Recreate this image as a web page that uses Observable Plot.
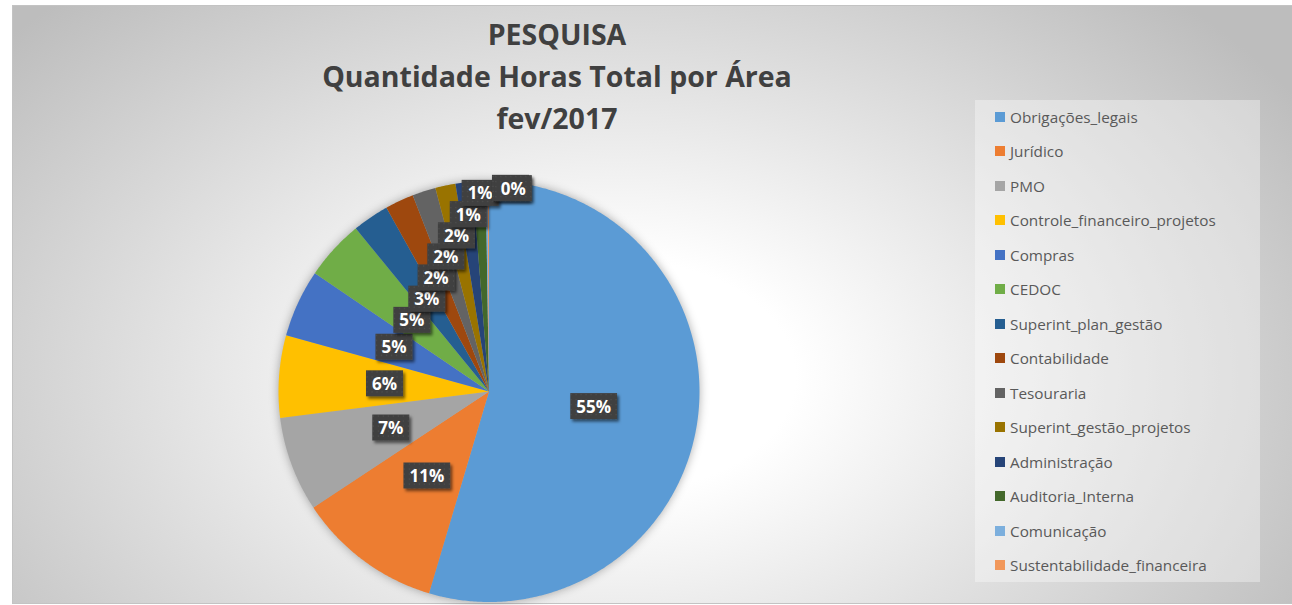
<!DOCTYPE html>
<html><head><meta charset="utf-8">
<script src="https://cdn.jsdelivr.net/npm/d3@7"></script>
<script src="https://cdn.jsdelivr.net/npm/@observablehq/plot@0.6"></script>
<style>
html,body{margin:0;padding:0;background:#fff;width:1292px;height:605px;overflow:hidden;}
#frame{position:absolute;left:12px;top:5px;width:1290px;height:597px;border:1px solid #c3c3c3;
  background: radial-gradient(ellipse 62% 88% at 47% 62%, #ffffff 0%, #ffffff 22%, #bdbdbd 100%);}
#chart{position:absolute;left:0;top:0;}
#chart svg g[aria-label="area"]{filter:drop-shadow(0 0 5px rgba(0,0,0,0.32));}
#title{position:absolute;left:244px;width:600px;top:7px;text-align:center;font-family:"Open Sans",sans-serif;
  font-weight:bold;font-size:28.5px;line-height:42px;color:#404040;font-variant-ligatures:none;}
#legend{position:absolute;left:962px;top:94px;width:285px;height:482px;background:rgba(255,255,255,0.35);}
.item{position:absolute;left:20px;height:20px;display:flex;align-items:center;font-family:"Open Sans",sans-serif;font-size:15.3px;color:#595959;white-space:nowrap;}
.sw{width:10px;height:10px;margin-right:5px;flex:none;}
</style></head><body>
<div id="frame">
  <div id="title">PESQUISA<br>Quantidade Horas Total por Área<br>fev/2017</div>
  <div id="chart"></div>
  <div id="legend"></div>
</div>
<script>
const categories = ["Obrigações_legais","Jurídico","PMO","Controle_financeiro_projetos","Compras","CEDOC",
  "Superint_plan_gestão","Contabilidade","Tesouraria","Superint_gestão_projetos","Administração",
  "Auditoria_Interna","Comunicação","Sustentabilidade_financeira"];
const shares = [54.6, 11.1, 7.3, 6.3, 5.2, 4.6, 2.8, 2.2, 1.8, 1.55, 1.3, 1.0, 0.15, 0.1];
const colors = ["#5B9BD5","#ED7D31","#A5A5A5","#FFC000","#4472C4","#70AD47","#255E91","#9E480E",
  "#636363","#997300","#264478","#43682B","#7CAFDD","#F1975A"];

const W = 1279, H = 597, CX = 476, CY = 385.5, R = 210.5;
const total = d3.sum(shares);
let acc = 0;
const slices = categories.map((c, i) => {
  const a0 = acc / total * 2 * Math.PI; acc += shares[i];
  const a1 = acc / total * 2 * Math.PI;
  return {cat: c, a0, a1, pct: shares[i] / total * 100};
});
const wedges = slices.flatMap(s => {
  const n = Math.max(2, Math.ceil((s.a1 - s.a0) / (Math.PI / 360)));
  return d3.range(n + 1).map(k => {
    const a = s.a0 + (s.a1 - s.a0) * k / n;
    return {cat: s.cat, bx: 0, by: 0, ex: Math.sin(a), ey: Math.cos(a)};
  });
});

// label layout: along mid-angle; a label may not sit below an earlier one it overlaps horizontally
const lw = 30 / R, lh = 21 / R;
const labels = [];
slices.forEach(s => {
  let th = (s.a0 + s.a1) / 2, r = 0.5;
  const hit = (x, y) => labels.some(p => Math.abs(p.x - x) < lw && y < p.y + lh);
  let x = r * Math.sin(th), y = r * Math.cos(th);
  while (hit(x, y) && r < 0.97) { r += 0.002; x = r * Math.sin(th); y = r * Math.cos(th); }
  let k = 0;
  while (hit(x, y) && k < 60) { th += 0.002; x = r * Math.sin(th); y = r * Math.cos(th); k++; }
  labels.push({x, y, text: Math.round(s.pct) + "%"});
});

const plot = Plot.plot({
  width: W, height: H,
  marginLeft: CX - R, marginRight: W - CX - R, marginTop: CY - R, marginBottom: H - CY - R,
  x: {domain: [-1, 1], axis: null},
  y: {domain: [-1, 1], axis: null},
  color: {domain: categories, range: colors},
  style: {background: "none", overflow: "visible"},
  marks: [
    Plot.area(wedges, {x1: "bx", y1: "by", x2: "ex", y2: "ey", z: "cat", fill: "cat"}),
    Plot.text(labels, {x: "x", y: "y", text: "text", fill: "white", fontSize: 17, fontWeight: "bold", fontFamily: "Open Sans"})
  ]
});
document.getElementById("chart").appendChild(plot);

// label boxes
const NS = "http://www.w3.org/2000/svg";
const defs = document.createElementNS(NS, "defs");
defs.innerHTML = `<pattern id="dots" width="5" height="5" patternUnits="userSpaceOnUse">
  <rect width="5" height="5" fill="#404040"/><circle cx="2.5" cy="2.5" r="0.7" fill="#4f4f4f"/></pattern>
  <filter id="sh" x="-20%" y="-20%" width="150%" height="160%"><feDropShadow dx="2" dy="2.5" stdDeviation="1.5" flood-color="#000" flood-opacity="0.55"/></filter>`;
plot.insertBefore(defs, plot.firstChild);
plot.querySelectorAll('g[aria-label="text"] text').forEach(t => {
  const bb = t.getBBox();
  const rc = document.createElementNS(NS, "rect");
  rc.setAttribute("x", bb.x - 6);
  rc.setAttribute("y", bb.y + bb.height / 2 - 13);
  rc.setAttribute("width", bb.width + 12);
  rc.setAttribute("height", 26);
  rc.setAttribute("fill", "url(#dots)");
  rc.setAttribute("stroke", "none");
  rc.setAttribute("filter", "url(#sh)");
  if (t.getAttribute("transform")) rc.setAttribute("transform", t.getAttribute("transform"));
  t.parentNode.insertBefore(rc, t);
});

// legend
const color = plot.scale("color");
const leg = document.getElementById("legend");
categories.forEach((c, i) => {
  const d = document.createElement("div");
  d.className = "item";
  d.style.top = (17 - 10 + i * 34.46) + "px";
  d.innerHTML = `<span class="sw" style="background:${color.apply(c)}"></span><span></span>`;
  d.lastChild.textContent = c;
  leg.appendChild(d);
});
</script>
</body></html>
